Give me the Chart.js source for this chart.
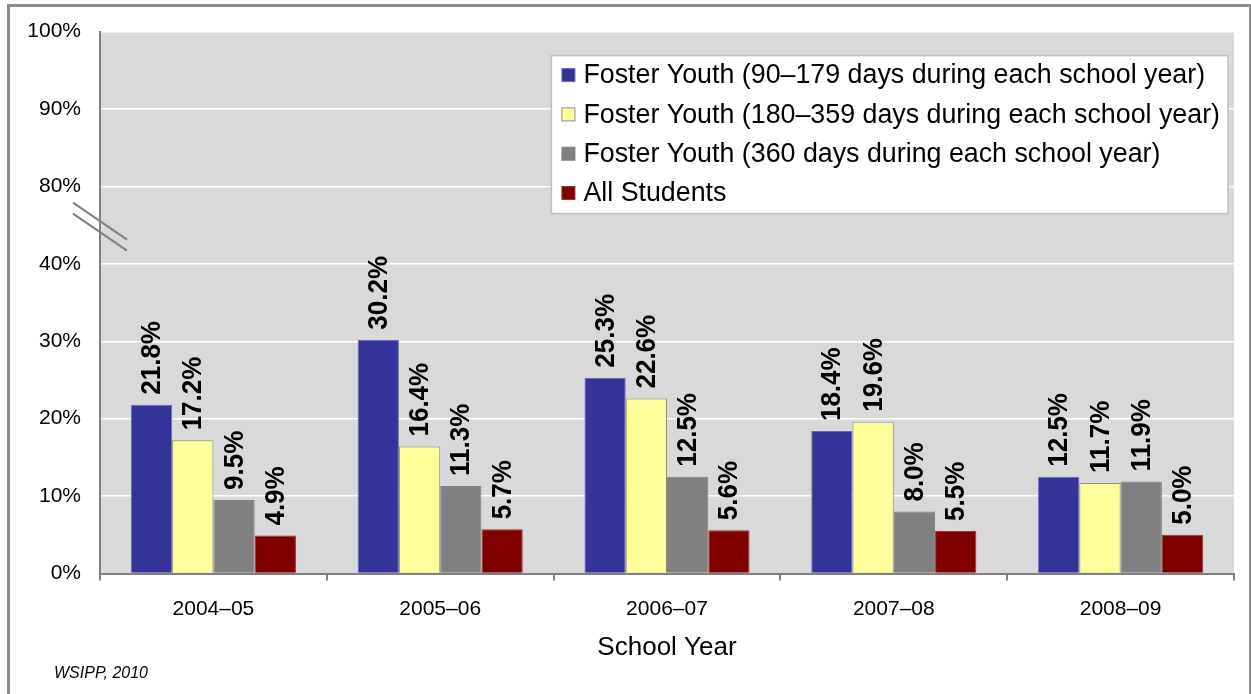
<!DOCTYPE html>
<html>
<head>
<meta charset="utf-8">
<script src="https://cdn.jsdelivr.net/npm/chart.js@4.4.0/dist/chart.umd.min.js"></script>
<style>
    body { margin: 0; background: #fff; }
    #frame {
        position: absolute; left: 7px; top: 4px; width: 1239px; height: 700px;
        border: 3px solid #8c8c8c; border-bottom: none; pointer-events: none;
    }
    #myChart { position: absolute; left: 0; top: 0; }
</style>
</head>
<body>
<canvas id="myChart" width="1251" height="694"></canvas>
<div id="frame"></div>
<script>
// 데이터
var schoolYears = ["2004–05", "2005–06", "2006–07", "2007–08", "2008–09"];
var foster90 = [21.8, 30.2, 25.3, 18.4, 12.5];
var foster180 = [17.2, 16.4, 22.6, 19.6, 11.7];
var foster360 = [9.5, 11.3, 12.5, 8.0, 11.9];
var allStudents = [4.9, 5.7, 5.6, 5.5, 5.0];
// 축이 40%에서 80%로 끊겨 있음 (축 값 50 = 80%)
var yTickLabels = ["0%", "10%", "20%", "30%", "40%", "80%", "90%", "100%"];

var FONT = "'Liberation Sans', Arial, sans-serif";
Chart.defaults.font.family = FONT;
Chart.defaults.color = "#000";

// 회색 배경
var plotBg = {
    id: "plotBg",
    beforeDraw: function(chart) {
        var a = chart.chartArea, ctx = chart.ctx;
        ctx.save();
        ctx.fillStyle = "#d9d9d9";
        ctx.fillRect(a.left, a.top, a.right - a.left, a.bottom - a.top);
        ctx.restore();
    }
};

// 막대 위 세로 라벨
var barLabels = {
    id: "barLabels",
    afterDatasetsDraw: function(chart) {
        var ctx = chart.ctx;
        ctx.save();
        ctx.font = "bold 26px " + FONT;
        ctx.fillStyle = "#000";
        ctx.textAlign = "left";
        ctx.textBaseline = "middle";
        chart.data.datasets.forEach(function(ds, i) {
            chart.getDatasetMeta(i).data.forEach(function(bar, j) {
                ctx.save();
                ctx.translate(bar.x, bar.y - 10);
                ctx.rotate(-Math.PI / 2);
                ctx.scale(1, 1.05);
                ctx.fillText(ds.data[j].toFixed(1) + "%", 0, 1);
                ctx.restore();
            });
        });
        ctx.restore();
    }
};

// 범례, 축 끊김 표시, 출처
var extras = {
    id: "extras",
    afterDraw: function(chart) {
        var a = chart.chartArea, ctx = chart.ctx;
        var y = chart.scales.y;
        ctx.save();

        // 축 끊김 (40%와 80% 사이)
        var yb = y.getPixelForValue(45);
        ctx.strokeStyle = "#808080";
        ctx.lineWidth = 2;
        [-4, 7].forEach(function(d) {
            ctx.beginPath();
            ctx.moveTo(a.left - 27, yb + d - 18.5);
            ctx.lineTo(a.left + 27, yb + d + 18.5);
            ctx.stroke();
        });

        // 범례
        ctx.font = "26.8px " + FONT;
        var maxW = 0;
        chart.data.datasets.forEach(function(ds) {
            maxW = Math.max(maxW, ctx.measureText(ds.label).width);
        });
        var right = a.right - 6;
        var left = right - maxW - 40;
        var top = a.top + 24;
        var bottom = a.top + 182;
        ctx.fillStyle = "#fff";
        ctx.fillRect(left, top, right - left, bottom - top);
        ctx.strokeStyle = "#bfbfbf";
        ctx.lineWidth = 1.5;
        ctx.strokeRect(left, top, right - left, bottom - top);
        ctx.textBaseline = "middle";
        ctx.textAlign = "left";
        chart.data.datasets.forEach(function(ds, i) {
            var ry = a.top + 43.5 + i * 39.3;
            ctx.fillStyle = ds.backgroundColor;
            ctx.fillRect(left + 10.5, ry - 6.5, 13, 13);
            ctx.strokeStyle = ds.borderColor;
            ctx.lineWidth = 1;
            ctx.strokeRect(left + 10.5, ry - 6.5, 13, 13);
            ctx.fillStyle = "#000";
            ctx.fillText(ds.label, left + 32, ry + 1);
        });

        // 출처
        ctx.font = "italic 16px " + FONT;
        ctx.fillStyle = "#000";
        ctx.fillText("WSIPP, 2010", 54, 674);
        ctx.restore();
    }
};

new Chart(document.getElementById("myChart").getContext("2d"), {
    type: "bar",
    data: {
        labels: schoolYears,
        datasets: [
            { label: "Foster Youth (90–179 days during each school year)", data: foster90,
              backgroundColor: "#333399", borderColor: "#6b6bb0", borderWidth: 1 },
            { label: "Foster Youth (180–359 days during each school year)", data: foster180,
              backgroundColor: "#ffff99", borderColor: "#8c8c8c", borderWidth: 1 },
            { label: "Foster Youth (360 days during each school year)", data: foster360,
              backgroundColor: "#808080", borderColor: "#808080", borderWidth: 1 },
            { label: "All Students", data: allStudents,
              backgroundColor: "#800000", borderColor: "#993333", borderWidth: 1 }
        ]
    },
    options: {
        responsive: false,
        animation: false,
        layout: { padding: { left: 0, right: 17, top: 30.7, bottom: 0 } },
        datasets: { bar: { categoryPercentage: 0.728, barPercentage: 1 } },
        plugins: {
            legend: { display: false },
            tooltip: { enabled: false }
        },
        scales: {
            x: {
                grid: { drawOnChartArea: false, tickLength: 7, color: "#808080", lineWidth: 2 },
                border: { color: "#808080", width: 2 },
                ticks: { font: { size: 21 }, padding: 16 },
                title: { display: true, text: "School Year", font: { size: 26 },
                         padding: { top: 0, bottom: 31 } },
                afterFit: function(scale) { scale.height = 120.5; }
            },
            y: {
                min: 0,
                max: 70,
                ticks: {
                    stepSize: 10,
                    padding: 19,
                    font: { size: 21 },
                    callback: function(v) { return yTickLabels[v / 10]; }
                },
                grid: {
                    drawTicks: false,
                    lineWidth: 1.5,
                    color: function(c) { return c.tick && c.tick.value === 0 ? "rgba(0,0,0,0)" : "#fff"; }
                },
                border: { color: "#808080", width: 2 },
                afterFit: function(scale) { scale.width = 100; }
            }
        }
    },
    plugins: [plotBg, barLabels, extras]
});
</script>
</body>
</html>
